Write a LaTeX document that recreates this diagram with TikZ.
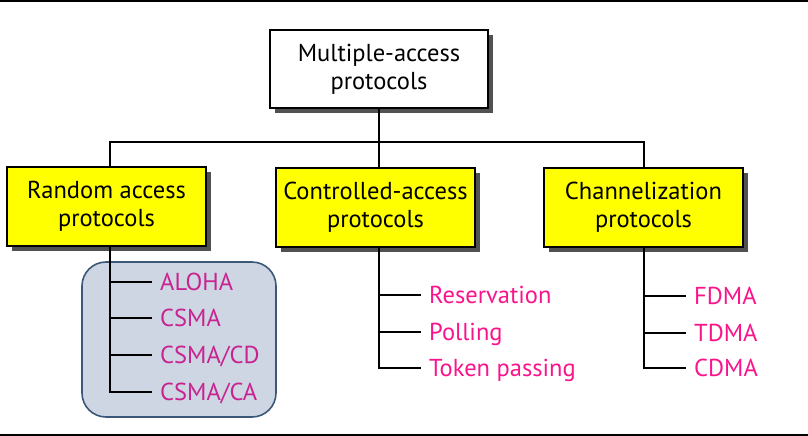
\documentclass[tikz,border=0pt]{standalone}
\usepackage{fontspec}
\setmainfont{PT Sans}
\usetikzlibrary{shadows}
\definecolor{catyellow}{RGB}{255,255,0}
\definecolor{itempink}{RGB}{250,20,140}
\definecolor{itempurple}{RGB}{200,35,145}
\definecolor{grpfill}{RGB}{205,214,226}
\definecolor{grpdraw}{RGB}{60,88,120}
\begin{document}
\begin{tikzpicture}[x=1pt,y=-1pt,
  boxbase/.style={draw=black, line width=1.9pt, align=center, inner sep=0pt,
    font=\fontsize{24.5}{28}\selectfont,
    drop shadow={shadow xshift=5pt, shadow yshift=-5pt, fill=black!80, opacity=0.85}},
  catbox/.style={boxbase, fill=catyellow, minimum width=199pt, minimum height=79pt},
  topbox/.style={boxbase, fill=white, minimum width=218pt, minimum height=78pt},
  item/.style={anchor=west, inner xsep=8pt, inner ysep=0pt, text height=17pt, text depth=0pt,
    font=\fontsize{24.5}{28}\selectfont, text=itempink},
  conn/.style={draw=black, line width=2pt}
]
\useasboundingbox (0,0) rectangle (808,436);
\fill[black] (0,0) rectangle (808,2.5);
\fill[black] (0,433.5) rectangle (808,436);

% group background
\draw[fill=grpfill, draw=grpdraw, line width=1.6pt, rounded corners=24pt] (82,262) rectangle (276,417);

% boxes
\node[topbox] (top) at (379,69) {Multiple-access\\protocols};
\node[catbox] (rnd) at (106.5,206.5) {Random access\\protocols};
\node[catbox] (ctl) at (375.5,207.5) {Controlled-access\\protocols};
\node[catbox] (chn) at (643.5,207.5) {Channelization\\protocols};

% items
\node[item, text=itempurple] (aloha) at (152,282) {ALOHA};
\node[item, text=itempurple] (csma) at (152,318) {CSMA};
\node[item, text=itempurple] (csmacd) at (152,355) {CSMA/CD};
\node[item, text=itempurple] (csmaca) at (152,392) {CSMA/CA};

\node[item] (resv) at (421,295) {Reservation};
\node[item] (poll) at (421,332) {Polling};
\node[item] (token) at (421,368) {Token passing};

\node[item] (fdma) at (686,296) {FDMA};
\node[item] (tdma) at (686,333) {TDMA};
\node[item] (cdma) at (686,368) {CDMA};

% tree connectors
\coordinate (j) at (379,142);
\draw[conn] (top.south) -- (j);
\draw[conn] ([xshift=3.5pt]rnd.north) |- (j) -| (chn.north);
\draw[conn] ([xshift=3.5pt]ctl.north) -- (j);

\draw[conn] ([xshift=3.5pt]rnd.south) |- (csmaca.west);
\draw[conn] ([xshift=3.5pt]rnd.south) |- (aloha.west);
\draw[conn] ([xshift=3.5pt]rnd.south) |- (csma.west);
\draw[conn] ([xshift=3.5pt]rnd.south) |- (csmacd.west);

\draw[conn] ([xshift=3.5pt]ctl.south) |- (token.west);
\draw[conn] ([xshift=3.5pt]ctl.south) |- (resv.west);
\draw[conn] ([xshift=3.5pt]ctl.south) |- (poll.west);

\draw[conn] (chn.south) |- (cdma.west);
\draw[conn] (chn.south) |- (fdma.west);
\draw[conn] (chn.south) |- (tdma.west);
\end{tikzpicture}
\end{document}
